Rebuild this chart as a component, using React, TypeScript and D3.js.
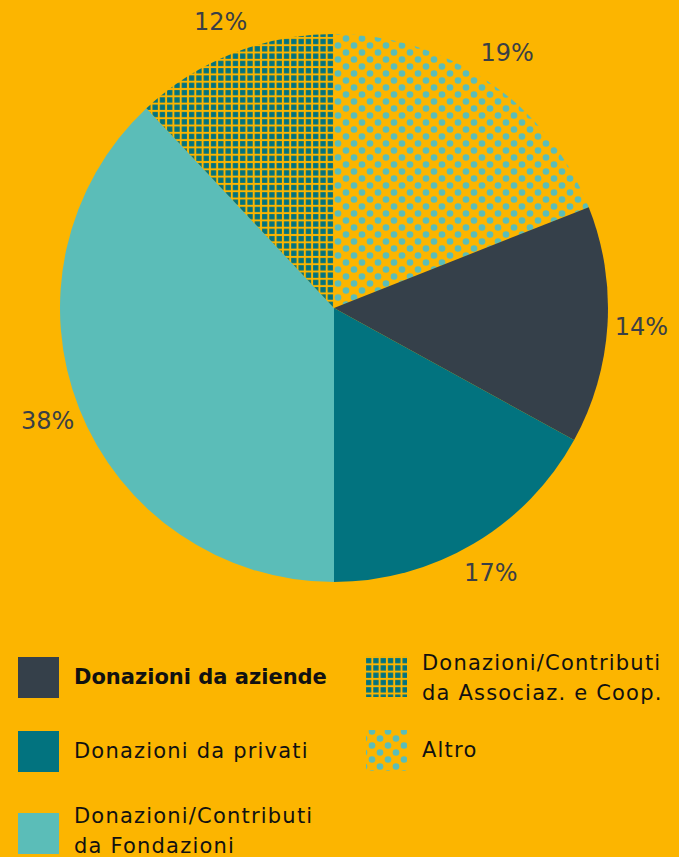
import React, { useEffect, useRef } from "react";
import * as d3 from "d3";

// slices clockwise from 12 o'clock
const categories = [
  "Altro",
  "Donazioni da aziende",
  "Donazioni da privati",
  "Donazioni/Contributi da Fondazioni",
  "Donazioni/Contributi da Associaz. e Coop.",
];
const values = [19, 14, 17, 38, 12];
const fills = ["url(#dots)", "#35404A", "#02737F", "#5BBDB8", "url(#grid)"];

const leftLegend = [
  { idx: 1, lines: ["Donazioni da aziende"], bold: true },
  { idx: 2, lines: ["Donazioni da privati"], bold: false },
  { idx: 3, lines: ["Donazioni/Contributi", "da Fondazioni"], bold: false },
];
const rightLegend = [
  { idx: 4, lines: ["Donazioni/Contributi", "da Associaz. e Coop."], bold: false },
  { idx: 0, lines: ["Altro"], bold: false },
];

const BG = "#FCB500";
const FONT = "'DejaVu Sans', 'Noto Sans', sans-serif";

export default function App() {
  const svgRef = useRef<SVGSVGElement>(null);

  useEffect(() => {
    const width = 679;
    const height = 857;
    const svg = d3.select(svgRef.current);
    svg.selectAll("*").remove();
    svg.attr("width", width).attr("height", height);

    svg.append("rect").attr("width", width).attr("height", height).attr("fill", BG);

    // patterns
    const defs = svg.append("defs");
    const grid = defs
      .append("pattern")
      .attr("id", "grid")
      .attr("patternUnits", "userSpaceOnUse")
      .attr("width", 7.3)
      .attr("height", 7.3);
    grid.append("rect").attr("width", 7.3).attr("height", 7.3).attr("fill", BG);
    grid.append("rect").attr("x", 1).attr("y", 1).attr("width", 5.3).attr("height", 5.3).attr("fill", "#02737F");

    const dots = defs
      .append("pattern")
      .attr("id", "dots")
      .attr("patternUnits", "userSpaceOnUse")
      .attr("width", 16)
      .attr("height", 14);
    dots.append("rect").attr("width", 16).attr("height", 14).attr("fill", BG);
    [
      [4, 3.5],
      [12, 10.5],
    ].forEach(([cx, cy]) => {
      dots.append("circle").attr("cx", cx).attr("cy", cy).attr("r", 3.3).attr("fill", "#5BBDB8");
    });

    // pie
    const cx = 334;
    const cy = 308;
    const radius = 274;
    const pie = d3
      .pie<number>()
      .sort(null)
      .value((d) => d);
    const arcs = pie(values);
    const arc = d3.arc<d3.PieArcDatum<number>>().innerRadius(0).outerRadius(radius);
    const labelArc = d3.arc<d3.PieArcDatum<number>>().innerRadius(308).outerRadius(308);

    const g = svg.append("g").attr("transform", `translate(${cx},${cy})`);
    g.selectAll("path")
      .data(arcs)
      .join("path")
      .attr("d", arc)
      .attr("fill", (d, i) => fills[i]);

    g.selectAll("text")
      .data(arcs)
      .join("text")
      .attr("transform", (d) => `translate(${labelArc.centroid(d)})`)
      .attr("text-anchor", "middle")
      .attr("dominant-baseline", "central")
      .style("font-family", FONT)
      .style("font-size", "24px")
      .attr("fill", "#3A3F46")
      .text((d) => `${d.data}%`);

    // legend
    const drawLegend = (items, x, ys, lineYs) => {
      items.forEach((item, k) => {
        svg
          .append("rect")
          .attr("x", x)
          .attr("y", ys[k])
          .attr("width", 41)
          .attr("height", 41)
          .attr("fill", fills[item.idx]);
        const t = svg
          .append("text")
          .attr("x", x + 56)
          .style("font-family", FONT)
          .style("font-size", "21px")
          .style("letter-spacing", item.bold ? "0px" : "1.2px")
          .style("font-weight", item.bold ? 700 : 400)
          .attr("fill", "#111");
        item.lines.forEach((line, j) => {
          t.append("tspan")
            .attr("x", x + 56)
            .attr("y", lineYs[k] + j * 30)
            .text(line);
        });
      });
    };
    drawLegend(leftLegend, 18, [657, 731, 813], [684, 758, 823]);
    drawLegend(rightLegend, 366, [656, 730], [670, 757]);
  }, []);

  return <svg ref={svgRef} style={{ position: "absolute", left: 0, top: 0, display: "block" }} />;
}
